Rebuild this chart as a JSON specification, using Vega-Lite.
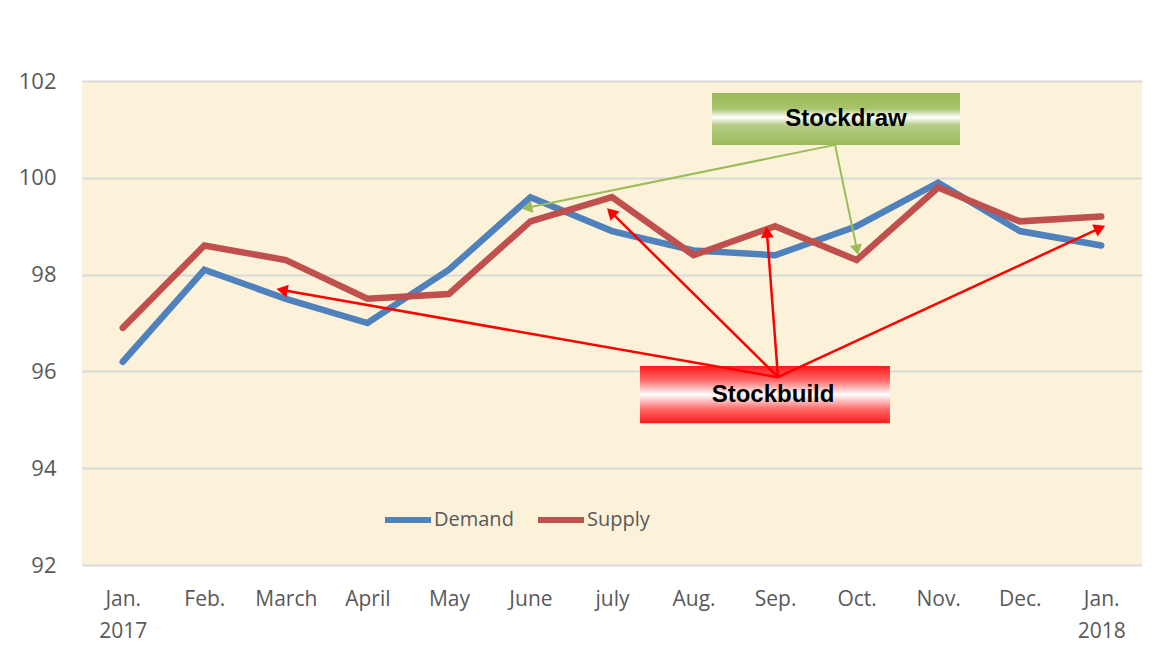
{
  "$schema": "https://vega.github.io/schema/vega-lite/v6.json",
  "width": 1060,
  "height": 484,
  "autosize": {"type": "none"},
  "padding": {"left": 82, "top": 81, "right": 31, "bottom": 102},
  "background": "#ffffff",
  "config": {
    "view": {"fill": "#fcf2d9", "stroke": null},
    "font": "Open Sans"
  },
  "datasets": {
    "series": [
      {"month": "Jan.|2017", "series": "Demand", "value": 96.2},
      {"month": "Feb.", "series": "Demand", "value": 98.1},
      {"month": "March", "series": "Demand", "value": 97.5},
      {"month": "April", "series": "Demand", "value": 97.0},
      {"month": "May", "series": "Demand", "value": 98.1},
      {"month": "June", "series": "Demand", "value": 99.6},
      {"month": "july", "series": "Demand", "value": 98.9},
      {"month": "Aug.", "series": "Demand", "value": 98.5},
      {"month": "Sep.", "series": "Demand", "value": 98.4},
      {"month": "Oct.", "series": "Demand", "value": 99.0},
      {"month": "Nov.", "series": "Demand", "value": 99.9},
      {"month": "Dec.", "series": "Demand", "value": 98.9},
      {"month": "Jan.|2018", "series": "Demand", "value": 98.6},
      {"month": "Jan.|2017", "series": "Supply", "value": 96.9},
      {"month": "Feb.", "series": "Supply", "value": 98.6},
      {"month": "March", "series": "Supply", "value": 98.3},
      {"month": "April", "series": "Supply", "value": 97.5},
      {"month": "May", "series": "Supply", "value": 97.6},
      {"month": "June", "series": "Supply", "value": 99.1},
      {"month": "july", "series": "Supply", "value": 99.6},
      {"month": "Aug.", "series": "Supply", "value": 98.4},
      {"month": "Sep.", "series": "Supply", "value": 99.0},
      {"month": "Oct.", "series": "Supply", "value": 98.3},
      {"month": "Nov.", "series": "Supply", "value": 99.8},
      {"month": "Dec.", "series": "Supply", "value": 99.1},
      {"month": "Jan.|2018", "series": "Supply", "value": 99.2}
    ],
    "boxes": [
      {"label": "Stockdraw", "x1": 7.726, "x2": 10.768, "y1": 101.75, "y2": 100.68, "tx": 9.37, "ty": 101.22},
      {"label": "Stockbuild", "x1": 6.843, "x2": 9.909, "y1": 96.11, "y2": 94.93, "tx": 8.475, "ty": 95.52}
    ],
    "arrows": [
      {"group": "draw", "fx": 9.235, "fy": 100.68, "tx": 5.457, "ty": 99.38},
      {"group": "draw", "fx": 9.235, "fy": 100.68, "tx": 9.505, "ty": 98.51},
      {"group": "build", "fx": 8.536, "fy": 95.88, "tx": 2.453, "ty": 97.68},
      {"group": "build", "fx": 8.536, "fy": 95.88, "tx": 6.488, "ty": 99.29},
      {"group": "build", "fx": 8.536, "fy": 95.88, "tx": 8.40, "ty": 98.88},
      {"group": "build", "fx": 8.536, "fy": 95.88, "tx": 12.485, "ty": 98.96}
    ]
  },
  "layer": [
    {
      "data": {"name": "series"},
      "mark": {"type": "line", "strokeWidth": 6.5, "strokeCap": "round", "strokeJoin": "miter"},
      "encoding": {
        "x": {
          "field": "month", "type": "nominal",
          "sort": ["Jan.|2017", "Feb.", "March", "April", "May", "June", "july", "Aug.", "Sep.", "Oct.", "Nov.", "Dec.", "Jan.|2018"],
          "scale": {"paddingInner": 0, "paddingOuter": 0},
          "axis": {
            "title": null, "domain": false, "ticks": false, "grid": false,
            "labelAngle": 0, "labelPadding": 23, "labelFontSize": 21,
            "labelColor": "#595959", "labelLineHeight": 32,
            "labelExpr": "split(datum.value, '|')"
          }
        },
        "y": {
          "field": "value", "type": "quantitative",
          "scale": {"domain": [92, 102], "nice": false, "zero": false},
          "axis": {
            "title": null, "domain": false, "ticks": false,
            "values": [92, 94, 96, 98, 100, 102],
            "gridColor": "#d8d9dc", "gridWidth": 2,
            "labelPadding": 26, "labelFontSize": 22, "labelColor": "#595959"
          }
        },
        "color": {
          "field": "series", "type": "nominal",
          "scale": {"domain": ["Demand", "Supply"], "range": ["#4f81bd", "#c0504d"]},
          "legend": {
            "title": null, "orient": "none", "direction": "horizontal",
            "legendX": 300, "legendY": 413,
            "symbolType": "stroke", "symbolSize": 2116, "symbolStrokeWidth": 6,
            "labelFontSize": 20, "labelColor": "#595959", "labelOffset": 0,
            "columnPadding": 12
          }
        }
      }
    },
    {
      "layer": [
        {
          "data": {"name": "boxes"},
          "transform": [{"filter": "datum.label == 'Stockdraw'"}],
          "mark": {
            "type": "rect",
            "fill": {
              "gradient": "linear", "x1": 0, "y1": 0, "x2": 0, "y2": 1,
              "stops": [
                {"offset": 0, "color": "#9bbb59"},
                {"offset": 0.3, "color": "#a8c46c"},
                {"offset": 0.47, "color": "#ffffff"},
                {"offset": 0.62, "color": "#b4cc84"},
                {"offset": 1, "color": "#9bbb59"}
              ]
            }
          },
          "encoding": {
            "x": {"field": "x1", "type": "quantitative", "scale": {"domain": [0, 13], "nice": false, "zero": false}, "axis": null},
            "x2": {"field": "x2"},
            "y": {"field": "y1", "type": "quantitative"},
            "y2": {"field": "y2"}
          }
        },
        {
          "data": {"name": "boxes"},
          "transform": [{"filter": "datum.label == 'Stockbuild'"}],
          "mark": {
            "type": "rect",
            "fill": {
              "gradient": "linear", "x1": 0, "y1": 0, "x2": 0, "y2": 1,
              "stops": [
                {"offset": 0, "color": "#ff1a1a"},
                {"offset": 0.25, "color": "#ff6a6a"},
                {"offset": 0.5, "color": "#ffffff"},
                {"offset": 0.75, "color": "#ff6a6a"},
                {"offset": 1, "color": "#ff1a1a"}
              ]
            }
          },
          "encoding": {
            "x": {"field": "x1", "type": "quantitative", "axis": null},
            "x2": {"field": "x2"},
            "y": {"field": "y1", "type": "quantitative"},
            "y2": {"field": "y2"}
          }
        },
        {
          "data": {"name": "boxes"},
          "mark": {"type": "text", "font": "Liberation Sans", "fontWeight": "bold", "fontSize": 24, "color": "#000000", "align": "center", "baseline": "middle"},
          "encoding": {
            "x": {"field": "tx", "type": "quantitative", "axis": null},
            "y": {"field": "ty", "type": "quantitative"},
            "text": {"field": "label"}
          }
        },
        {
          "data": {"name": "arrows"},
          "transform": [{"filter": "datum.group == 'draw'"}],
          "mark": {"type": "rule", "color": "#9bbb59", "strokeWidth": 2},
          "encoding": {
            "x": {"field": "fx", "type": "quantitative", "axis": null},
            "y": {"field": "fy", "type": "quantitative"},
            "x2": {"field": "tx"},
            "y2": {"field": "ty"}
          }
        },
        {
          "data": {"name": "arrows"},
          "transform": [{"filter": "datum.group == 'build'"}],
          "mark": {"type": "rule", "color": "#ff0000", "strokeWidth": 2.5},
          "encoding": {
            "x": {"field": "fx", "type": "quantitative", "axis": null},
            "y": {"field": "fy", "type": "quantitative"},
            "x2": {"field": "tx"},
            "y2": {"field": "ty"}
          }
        },
        {
          "data": {"name": "arrows"},
          "transform": [
            {"filter": "datum.group == 'draw'"},
            {"calculate": "atan2((datum.tx - datum.fx) * 81.54, (datum.ty - datum.fy) * 48.4) * 180 / PI", "as": "ang"}
          ],
          "mark": {"type": "point", "shape": "triangle-up", "filled": true, "size": 150, "color": "#9bbb59", "opacity": 1},
          "encoding": {
            "x": {"field": "tx", "type": "quantitative", "axis": null},
            "y": {"field": "ty", "type": "quantitative"},
            "angle": {"field": "ang", "type": "quantitative", "scale": null}
          }
        },
        {
          "data": {"name": "arrows"},
          "transform": [
            {"filter": "datum.group == 'build'"},
            {"calculate": "atan2((datum.tx - datum.fx) * 81.54, (datum.ty - datum.fy) * 48.4) * 180 / PI", "as": "ang"}
          ],
          "mark": {"type": "point", "shape": "triangle-up", "filled": true, "size": 170, "color": "#ff0000", "opacity": 1},
          "encoding": {
            "x": {"field": "tx", "type": "quantitative", "axis": null},
            "y": {"field": "ty", "type": "quantitative"},
            "angle": {"field": "ang", "type": "quantitative", "scale": null}
          }
        }
      ]
    }
  ],
  "resolve": {"scale": {"x": "independent"}}
}
